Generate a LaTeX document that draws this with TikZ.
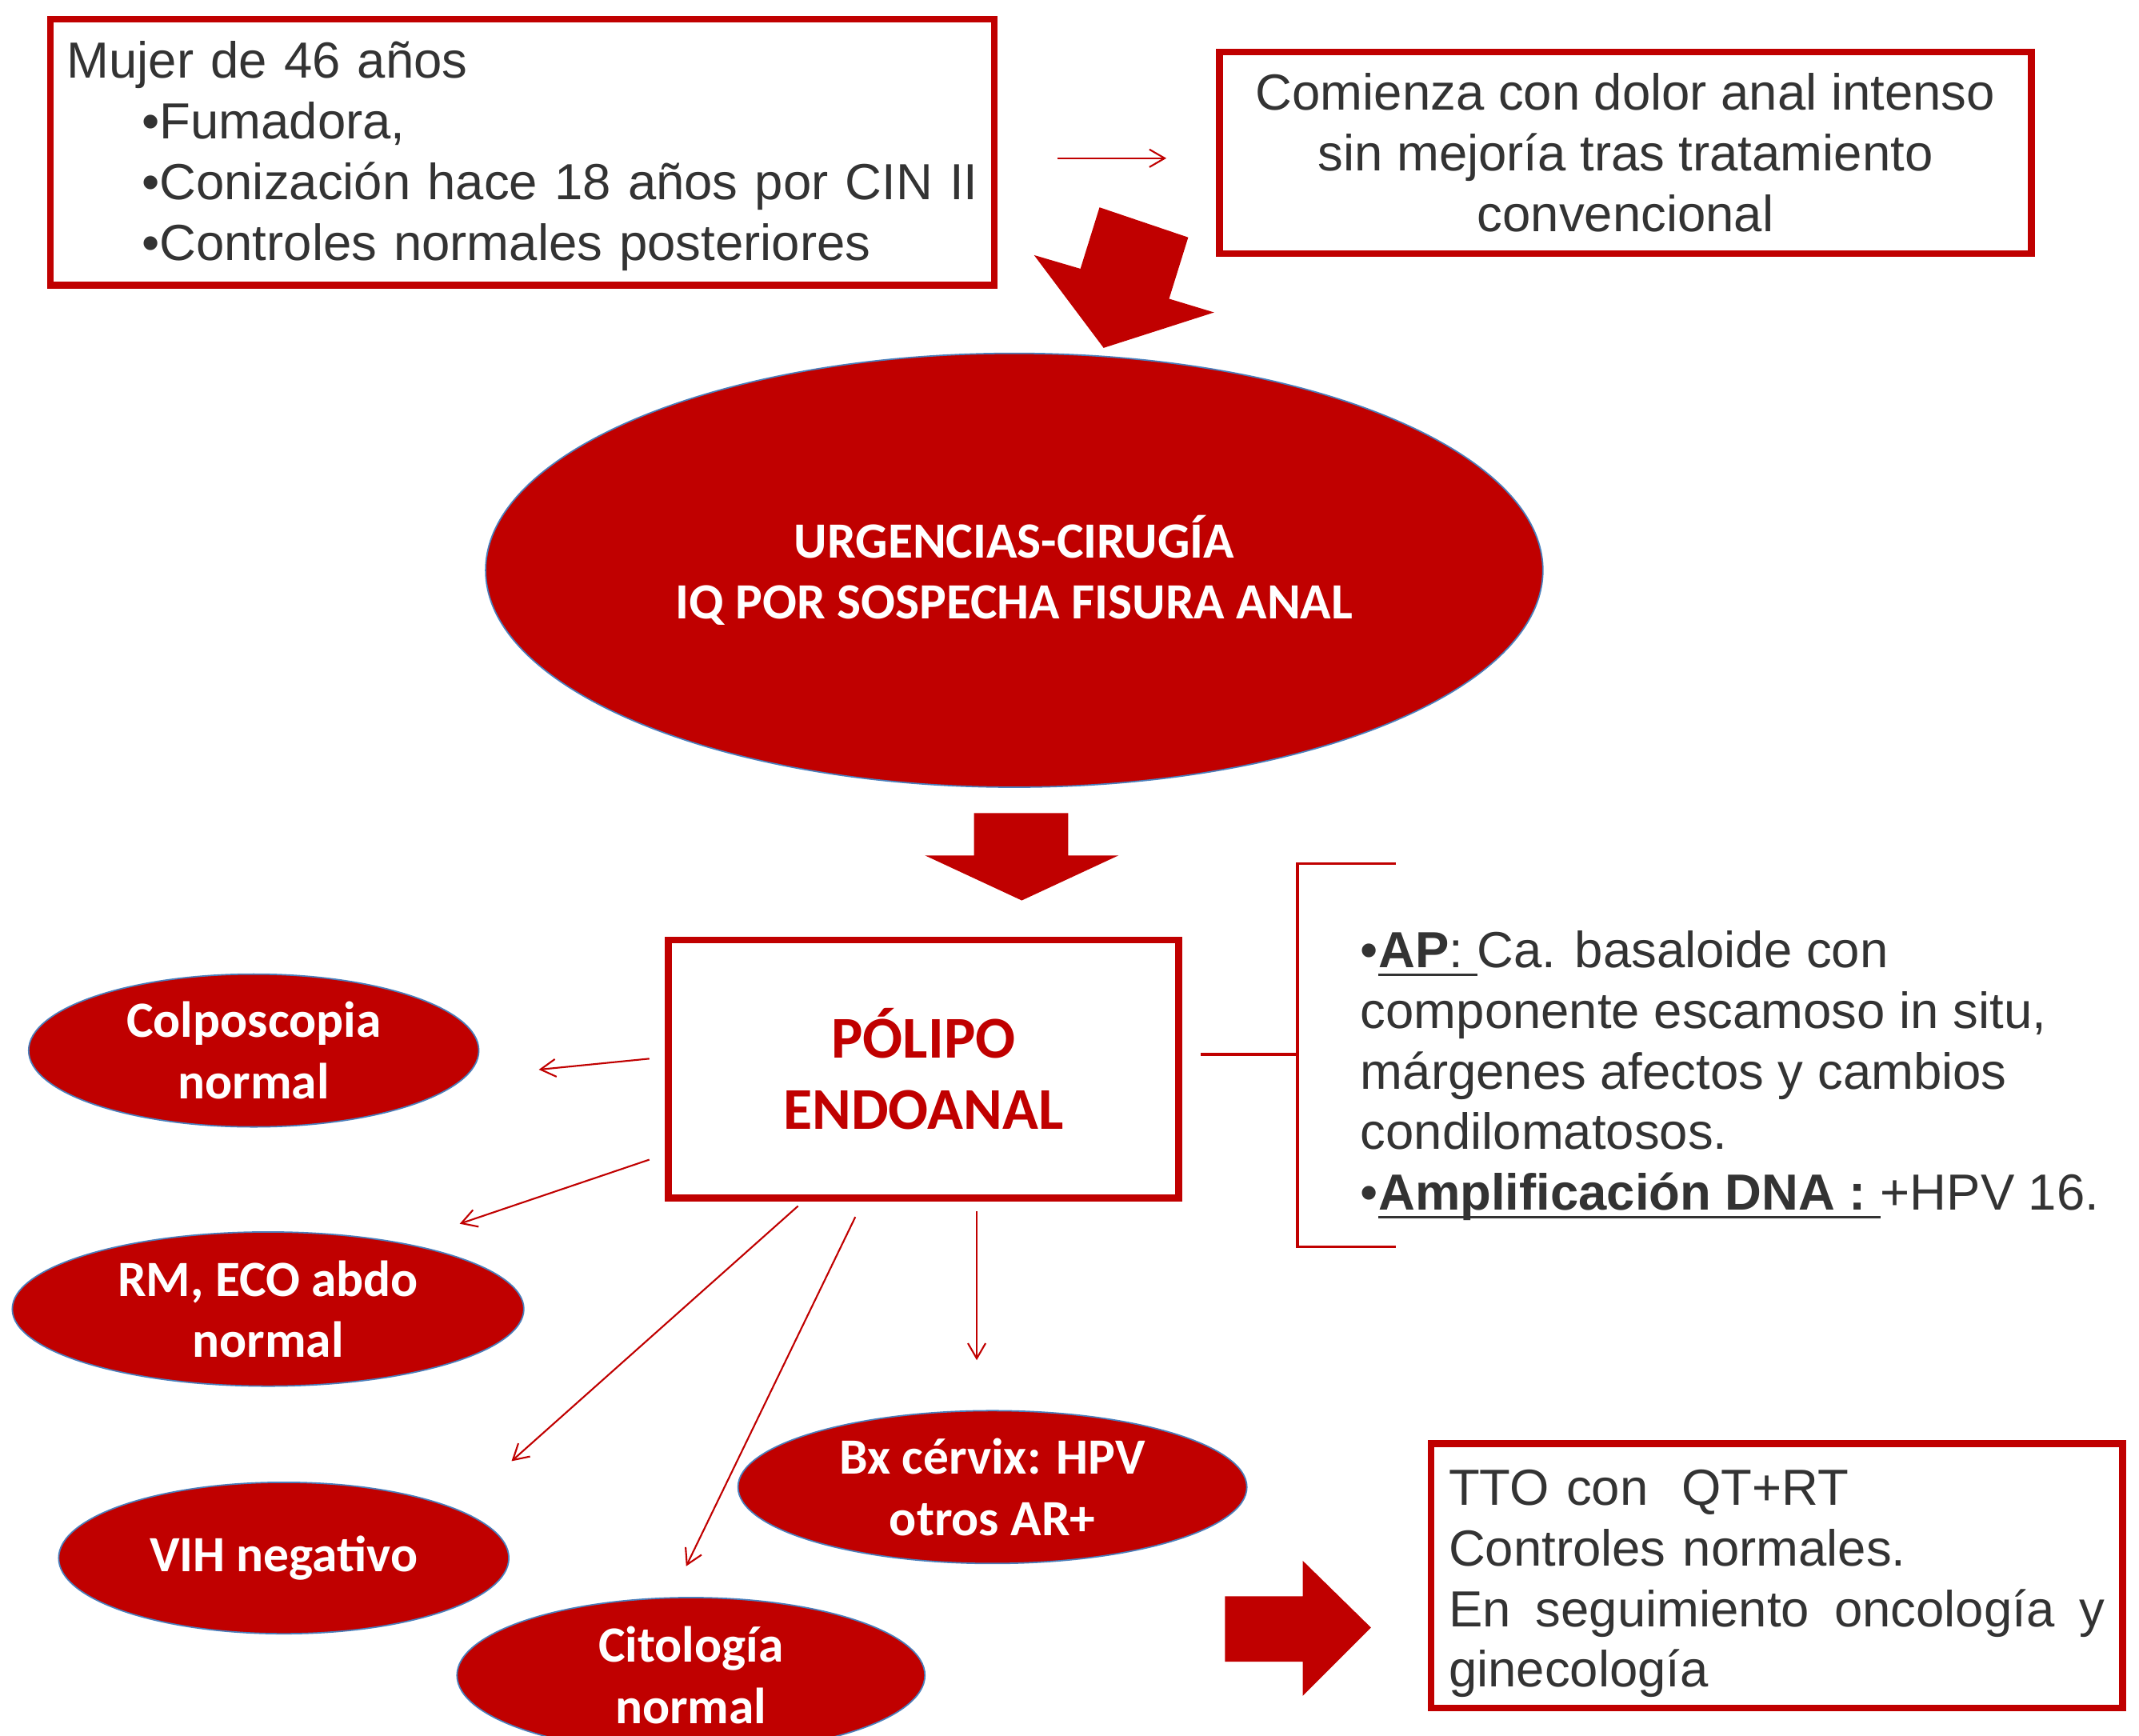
\documentclass[tikz,border=0pt]{standalone}
\usepackage{fontspec}
\setmainfont{Liberation Sans}
\newfontfamily\calfont{Carlito}
\usetikzlibrary{shapes.geometric,arrows.meta}
\definecolor{darkred}{HTML}{C00000}
\definecolor{txtgray}{HTML}{333333}
\definecolor{rimblue}{HTML}{4A7EBB}
\def\un{0.17mm}
\newcommand\ulmark[1]{\setbox0\hbox{#1}\rlap{\rule[-1.05mm]{\wd0}{0.35mm}}\box0}
\begin{document}
\begin{tikzpicture}[x=\un,y=-\un,
  redbox/.style={rectangle, draw=darkred, line width=2.4pt, inner sep=0pt},
  bodytext/.style={text=txtgray, font=\fontsize{18}{21.5}\selectfont},
  redoval/.style={ellipse, draw=rimblue, line width=0.5pt, fill=darkred, inner sep=0pt},
  ovaltext/.style={text=white, align=center, font=\calfont\bfseries\fontsize{18}{21.7}\selectfont},
  thinarrow/.style={draw=darkred, line width=0.6pt, -{Straight Barb[length=1.9mm,width=2.2mm]}},
  bigarrow/.style={fill=darkred, draw=none},
  bracketline/.style={draw=darkred, line width=1pt}]
\useasboundingbox (0,0) rectangle (1568,1272);
\clip (0,0) rectangle (1568,1272);
% case history
\node[redbox, bodytext, minimum width=692*\un, minimum height=195*\un, text width=668*\un, inner xsep=12*\un, align=left] (patient) at (383,111.5) {\rule{0pt}{5.6mm}Mujer de 46 años\\\hspace*{9.35mm}•Fumadora,\\\hspace*{9.35mm}•Conización hace 18 años por CIN II\\\hspace*{9.35mm}•Controles normales posteriores};
\node[redbox, bodytext, minimum width=595*\un, minimum height=148*\un, align=center] (onset) at (1191.5,112) {Comienza con dolor anal intenso\\sin mejoría tras tratamiento\\convencional};
\coordinate (onset-in) at (775,116);
\coordinate (onset-out) at (855,116);
\draw[thinarrow] (onset-in) -- (onset-out);
\fill[bigarrow] (806,152) -- (871,174) -- (857,219) -- (890,229) -- (809,255) -- (758,187) -- (792,197) -- cycle;
% surgery
\node[redoval, ovaltext, minimum width=775*\un, minimum height=318*\un] (urgencias) at (743.5,418) {URGENCIAS-CIRUGÍA\\IQ POR SOSPECHA FISURA ANAL};
\fill[bigarrow] (714,596) -- (783,596) -- (783,627) -- (820,627) -- (749,660) -- (678,627) -- (714,627) -- cycle;
\node[redbox, minimum width=374*\un, minimum height=189*\un, align=center, text=darkred, font=\calfont\bfseries\fontsize{21}{25}\selectfont] (polyp) at (677,783.5) {PÓLIPO\\ENDOANAL};
% pathology
\node[bodytext, align=left, anchor=west, inner sep=0pt] (pathology) at (997,788.5) {•\ulmark{\textbf{AP}:\ }Ca. basaloide con\\componente escamoso in situ,\\márgenes afectos y cambios\\condilomatosos.\\•\ulmark{\textbf{Amplificación DNA :\ }}+HPV 16.};
\coordinate (br-in) at (880,773);
\coordinate (br-mid) at (951,773);
\coordinate (br-top) at (1023,633);
\coordinate (br-bot) at (1023,914);
\draw[bracketline] (br-in) -- (br-mid);
\draw[bracketline] (br-top) -- (br-top -| br-mid) -- (br-bot -| br-mid) -- (br-bot);
% work-up
\node[redoval, minimum width=330*\un, minimum height=112*\un, label={[ovaltext]center:{Colposcopia\\normal}}] (colpo) at (186,770) {};
\node[redoval, minimum width=375*\un, minimum height=113*\un, label={[ovaltext]center:{RM, ECO abdo\\normal}}] (rmeco) at (196.5,959.5) {};
\node[redoval, minimum width=330*\un, minimum height=111*\un, label={[ovaltext]center:{VIH negativo}}] (vih) at (208,1142) {};
\node[redoval, minimum width=343*\un, minimum height=114*\un, label={[ovaltext]center:{Citología\\normal}}] (cito) at (506.5,1228) {};
\node[redoval, minimum width=373*\un, minimum height=112*\un, label={[ovaltext]center:{Bx cérvix: HPV\\otros AR+}}] (bx) at (727.5,1090) {};
\coordinate (colpo-s) at (476,776);  \coordinate (colpo-e) at (395,784);
\coordinate (rmeco-s) at (476,850);  \coordinate (rmeco-e) at (337,897);
\coordinate (vih-s) at (585,884);    \coordinate (vih-e) at (375,1071);
\coordinate (cito-s) at (627,892);   \coordinate (cito-e) at (503,1148);
\coordinate (bx-s) at (716,888);     \coordinate (bx-e) at (716,997);
\draw[thinarrow] (colpo-s) -- (colpo-e);
\draw[thinarrow] (rmeco-s) -- (rmeco-e);
\draw[thinarrow] (vih-s) -- (vih-e);
\draw[thinarrow] (cito-s) -- (cito-e);
\draw[thinarrow] (bx-s) -- (bx-e);
% treatment
\fill[bigarrow] (898,1170) -- (955,1170) -- (955,1144) -- (1005,1193) -- (955,1243) -- (955,1218) -- (898,1218) -- cycle;
\node[redbox, bodytext, minimum width=507*\un, minimum height=194*\un, text width=481*\un, inner xsep=13*\un, align=left] (treatment) at (1302.5,1155) {\rule{0pt}{6.4mm}TTO con\ \ QT+RT\\Controles normales.\\\makebox[81.77mm]{En\hfill seguimiento\hfill oncología\hfill y}\\ginecología};
\end{tikzpicture}
\end{document}
